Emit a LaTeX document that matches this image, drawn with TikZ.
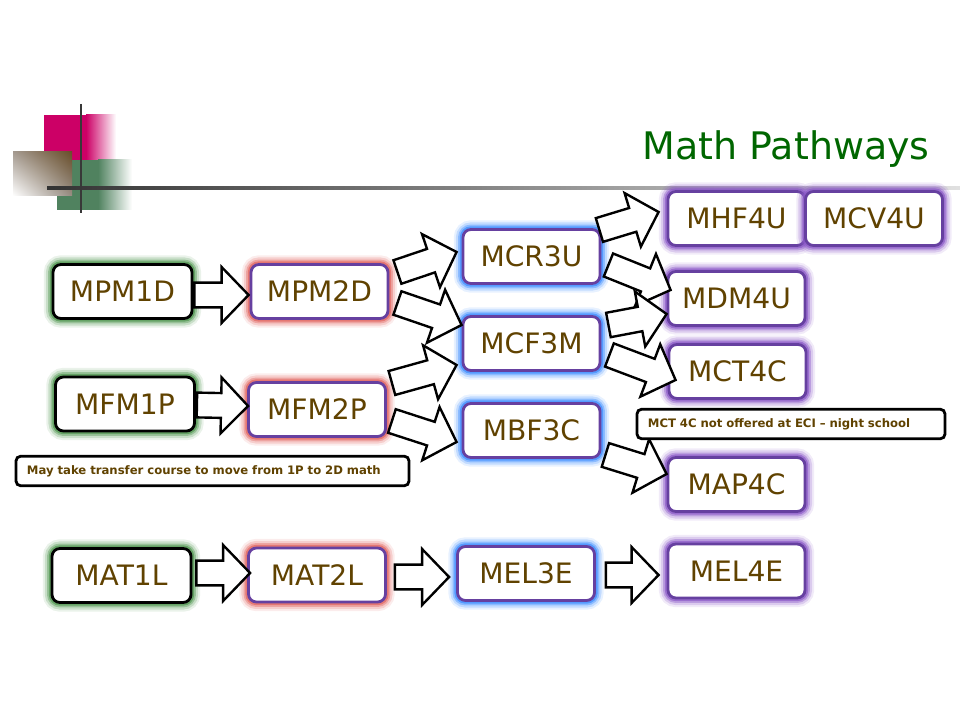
\documentclass[tikz,border=0pt]{standalone}
\usepackage{fontspec}
\setmainfont{DejaVu Sans}
\usetikzlibrary{calc, positioning, shadings}

\definecolor{bordpurple}{RGB}{102,64,160}
\definecolor{glowgreen}{RGB}{80,150,80}
\definecolor{glowred}{RGB}{225,100,95}
\definecolor{glowblue}{RGB}{60,140,255}
\definecolor{glowpurple}{RGB}{140,90,200}
\definecolor{txtbrown}{RGB}{96,66,0}
\definecolor{titlegreen}{RGB}{0,102,0}
\definecolor{decomagenta}{RGB}{204,0,102}
\definecolor{decogreen}{RGB}{80,130,95}
\definecolor{decoul}{RGB}{165,155,145}
\definecolor{decour}{RGB}{105,78,42}
\definecolor{decolr}{RGB}{150,140,130}

\tikzset{
  glow/.style={preaction={draw=#1, line width=13pt, draw opacity=0.12},
               preaction={draw=#1, line width=10pt, draw opacity=0.22},
               preaction={draw=#1, line width=7pt, draw opacity=0.4},
               preaction={draw=#1, line width=4.5pt, draw opacity=0.7}},
  course/.style={draw=bordpurple, line width=2pt, rounded corners=0.2cm, fill=white,
                 minimum width=3.425cm, minimum height=1.35cm, inner sep=0pt,
                 text=txtbrown, font=\fontsize{20}{21}\selectfont},
  gradenine/.style={course, draw=black, minimum width=3.475cm, glow=glowgreen},
  gradeten/.style={course, glow=glowred},
  gradeeleven/.style={course, glow=glowblue},
  gradetwelve/.style={course, glow=glowpurple},
  note/.style={draw=black, line width=2pt, rounded corners=0.12cm, fill=white,
               inner xsep=0.275cm, inner ysep=0pt, minimum height=0.74cm, align=left,
               text=txtbrown, font=\fontsize{8.3}{10}\selectfont\bfseries},
  fatarrow/.style={draw=black, line width=1.7pt, fill=white, line join=miter},
  title/.style={text=titlegreen, font=\fontsize{27}{30}\selectfont, inner sep=0pt}
}

\begin{document}
\begin{tikzpicture}[x=0.025cm, y=-0.025cm]

\newcommand{\shaftw}{0.31cm}
\newcommand{\headw}{0.7cm}
\newcommand{\headl}{0.675cm}

\newcommand{\fatarrow}[2]{
\coordinate (fa) at #1;
\coordinate (fb) at #2;
\coordinate (fc) at ($(fb)!\headl!(fa)$);
\draw[fatarrow] ($(fa)!\shaftw!90:(fb)$) -- ($(fc)!\shaftw!90:(fb)$) -- ($(fc)!\headw!90:(fb)$) -- (fb)
  -- ($(fc)!\headw!-90:(fb)$) -- ($(fc)!\shaftw!-90:(fb)$) -- ($(fa)!\shaftw!-90:(fb)$) -- cycle;
}

\useasboundingbox (0,0) rectangle (960,720);

% corner decoration
\fill[decomagenta] (44,115) rectangle (86,160);
\shade[left color=decomagenta, right color=white] (86,115) rectangle (116,160);
\fill[decogreen] (57,160) rectangle (98,210);
\shade[left color=decogreen, right color=white] (98,160) rectangle (132,210);
\shade[upper left=decoul, upper right=decour, lower left=white, lower right=decolr] (13,152) rectangle (72,196);
\shade[left color=black!80, right color=black!12] (47,186.5) rectangle (960,189.5);
\draw[line width=2.1pt, black!78] (81,104) -- (81,213);

\node[title, anchor=base east] (title) at (930,160) {Math Pathways};

% grade 9
\node[gradenine] (mpm1d) at (122.5,291.5) {MPM1D};
\node[gradenine] (mfm1p) at (125,404) {MFM1P};
\node[gradenine] (mat1l) at (121.5,575.5) {MAT1L};

% grade 10
\node[gradeten] (mpm2d) at (319.5,291.5) {MPM2D};
\node[gradeten] (mfm2p) at (317,409.5) {MFM2P};
\node[gradeten] (mat2l) at (317,575) {MAT2L};

% grade 11
\node[gradeeleven] (mcr3u) at (531.5,256.5) {MCR3U};
\node[gradeeleven] (mcf3m) at (531.5,343.5) {MCF3M};
\node[gradeeleven] (mbf3c) at (531.5,430.5) {MBF3C};
\node[gradeeleven] (mel3e) at (526,573.5) {MEL3E};

% grade 12
\node[gradetwelve] (mhf4u) at (736.5,218.5) {MHF4U};
\node[gradetwelve] (mcv4u) at (874,218.5) {MCV4U};
\node[gradetwelve] (mdm4u) at (736.5,298.5) {MDM4U};
\node[gradetwelve] (mct4c) at (737.5,371.5) {MCT4C};
\node[gradetwelve] (map4c) at (736.5,484.5) {MAP4C};
\node[gradetwelve] (mel4e) at (736.5,571) {MEL4E};

\fatarrow{($(mpm1d.east)+(1,3.5)$)}{($(mpm2d.west)+(-1,3.5)$)}
\fatarrow{($(mpm2d.east)+(8,-19.5)$)}{($(mcr3u.west)+(-5,-4.5)$)}
\fatarrow{($(mpm2d.east)+(8,11.5)$)}{($(mcf3m.west)+(0,-18.5)$)}
\fatarrow{($(mfm1p.east)+(1,1)$)}{($(mfm2p.west)+(1,-3.5)$)}
\fatarrow{($(mfm2p.east)+(5,-26.5)$)}{($(mcf3m.west)+(-5,21.5)$)}
\fatarrow{($(mfm2p.east)+(5,11.5)$)}{($(mbf3c.west)+(-5,11.5)$)}
\fatarrow{($(mcr3u.east)+(-2,-26.5)$)}{($(mhf4u.west)+(-8,-6.5)$)}
\fatarrow{($(mcr3u.east)+(7,8.5)$)}{($(mdm4u.west)+(4,-8.5)$)}
\fatarrow{($(mcf3m.east)+(7,-18.5)$)}{($(mdm4u.west)+(0,15.5)$)}
\fatarrow{($(mcf3m.east)+(8,11.5)$)}{($(mct4c.west)+(8,8.5)$)}
\fatarrow{($(mbf3c.east)+(4,24.5)$)}{($(map4c.west)+(0,-10.5)$)}
\fatarrow{($(mat1l.east)+(4,-2.5)$)}{($(mat2l.west)+(3,-2)$)}
\fatarrow{($(mat2l.east)+(8,2)$)}{($(mel3e.west)+(-7,3.5)$)}
\fatarrow{($(mel3e.east)+(10,1.5)$)}{($(mel4e.west)+(-8,4)$)}

% notes
\node[note, text width=9.275cm] (transfer) at (212.5,471) {May take transfer course to move from 1P to 2D math};
\node[note, text width=7.15cm] (night) at (791,424) {MCT 4C not offered at ECI -- night school};

\end{tikzpicture}
\end{document}
